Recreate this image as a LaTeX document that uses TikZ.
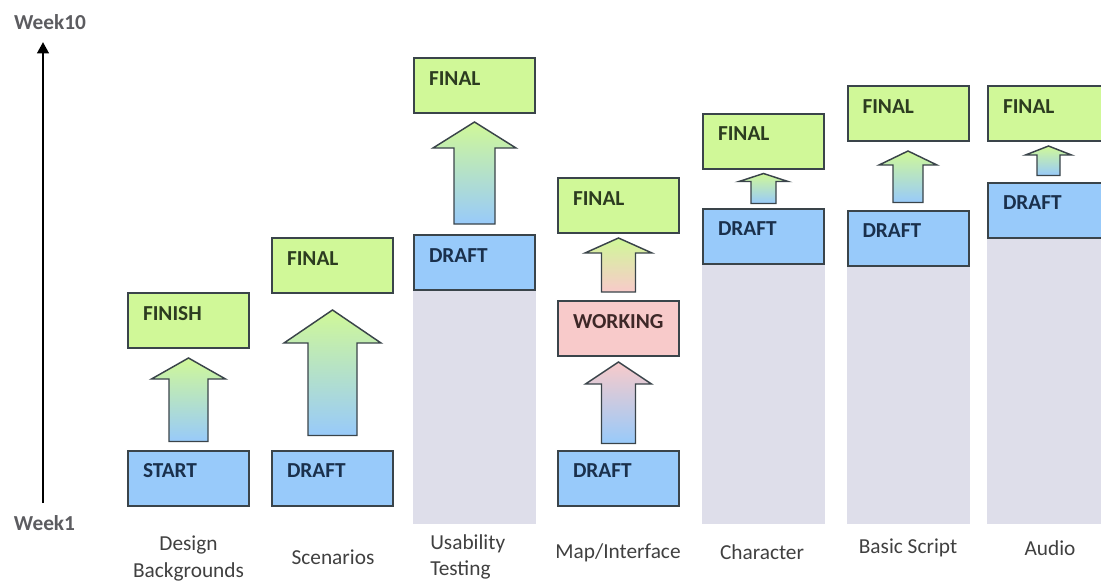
\documentclass[tikz,border=0pt]{standalone}
\usepackage{fontspec}
\setmainfont{Carlito}
\usetikzlibrary{calc,arrows.meta}
\definecolor{boxgreen}{RGB}{208,248,152}
\definecolor{boxblue}{RGB}{152,202,250}
\definecolor{boxpink}{RGB}{248,202,202}
\definecolor{colgray}{RGB}{222,222,234}
\definecolor{edgegray}{RGB}{58,68,74}
\definecolor{labgray}{RGB}{64,64,64}
\definecolor{weekgray}{RGB}{92,92,96}
\definecolor{greentext}{RGB}{44,60,32}
\definecolor{bluetext}{RGB}{26,48,76}
\definecolor{pinktext}{RGB}{62,40,40}
\def\u{0.75pt}
\tikzset{
  stagebox/.style={draw=edgegray, line width=1.5pt, anchor=center,
    inner xsep=11.25pt, inner ysep=0pt, text width=68.25pt, align=left,
    text height=20.25pt, text depth=21pt,
    font=\fontsize{16}{19}\selectfont\bfseries},
  greenbox/.style={stagebox, fill=boxgreen, text=greentext},
  bluebox/.style={stagebox, fill=boxblue, text=bluetext},
  pinkbox/.style={stagebox, fill=boxpink, text=pinktext},
  arrowedge/.style={draw=edgegray, line width=1.1pt, line join=miter},
  collabel/.style={font=\fontsize{16}{20}\selectfont, text=labgray, align=center, inner sep=0pt},
  weeklabel/.style={font=\fontsize{16}{19}\selectfont\bfseries, text=weekgray, inner sep=0pt},
  axisline/.style={line width=2.2pt, -{Triangle[width=8.5pt,length=8.5pt]}},
  graycol/.style={fill=colgray}
}
% from, to, bottom gap, top gap, shaft half width, head half width, head length, bottom colour, top colour
\newcommand\blockarrow[9]{%
  \draw[arrowedge, top color=#9, bottom color=#8]
    let \p1=(#1.north), \p2=(#2.south) in
    (\x1-#5*\u, \y1+#3*\u) -- (\x1+#5*\u, \y1+#3*\u)
    -- (\x1+#5*\u, \y2-#4*\u-#7*\u) -- (\x1+#6*\u, \y2-#4*\u-#7*\u)
    -- (\x1, \y2-#4*\u)
    -- (\x1-#6*\u, \y2-#4*\u-#7*\u) -- (\x1-#5*\u, \y2-#4*\u-#7*\u) -- cycle;
}
\begin{document}
\begin{tikzpicture}[x=0.75pt, y=-0.75pt]
\useasboundingbox (0,0) rectangle (1101,582);
\clip (0,0) rectangle (1101,582);
\coordinate (base) at (0,524);

% boxes
\node[bluebox]  (c1s) at (188.5,478)   {START};
\node[greenbox] (c1f) at (188.5,320.5) {FINISH};
\node[bluebox]  (c2d) at (332.5,478)   {DRAFT};
\node[greenbox] (c2f) at (332.5,265.5) {FINAL};
\node[bluebox]  (c3d) at (474.5,262.5) {DRAFT};
\node[greenbox] (c3f) at (474.5,85.5)  {FINAL};
\node[bluebox]  (c4d) at (618.5,478)   {DRAFT};
\node[pinkbox]  (c4w) at (618.5,328.5) {WORKING};
\node[greenbox] (c4f) at (618.5,205.5) {FINAL};
\node[bluebox]  (c5d) at (763.5,236)   {DRAFT};
\node[greenbox] (c5f) at (763.5,141)   {FINAL};
\node[bluebox]  (c6d) at (908,238)     {DRAFT};
\node[greenbox] (c6f) at (908,113.5)   {FINAL};
\node[bluebox]  (c7d) at (1048.5,210)  {DRAFT};
\node[greenbox] (c7f) at (1048.5,113.5){FINAL};

% grey columns below the drafts
\fill[graycol] (c3d.south west) rectangle (c3d.south east |- base);
\fill[graycol] (c5d.south west) rectangle (c5d.south east |- base);
\fill[graycol] (c6d.south west) rectangle (c6d.south east |- base);
\fill[graycol] (c7d.south west) rectangle (c7d.south east |- base);

% block arrows
\blockarrow{c1s}{c1f}{8}{9}{19.5}{37}{21}{boxblue}{boxgreen}
\blockarrow{c2d}{c2f}{14}{16}{24.5}{48.5}{33}{boxblue}{boxgreen}
\blockarrow{c3d}{c3f}{10}{8}{20.5}{41.5}{26}{boxblue}{boxgreen}
\blockarrow{c4d}{c4w}{6}{5}{17}{33}{22}{boxblue}{boxpink}
\blockarrow{c4w}{c4f}{8}{4}{17}{33.5}{15}{boxpink}{boxgreen}
\blockarrow{c5d}{c5f}{4}{4}{12.5}{24.5}{8}{boxblue}{boxgreen}
\blockarrow{c6d}{c6f}{7}{9}{15}{29}{14}{boxblue}{boxgreen}
\blockarrow{c7d}{c7f}{6}{4}{11.5}{23}{9}{boxblue}{boxgreen}

% time axis
\node[weeklabel] (w10) at (50,22) {Week10};
\node[weeklabel] (w1)  at (44.5,523) {Week1};
\coordinate (axbot) at (43,503);
\coordinate (axtop) at (43,42);
\draw[axisline] (axbot) -- (axtop);

% column labels
\node[collabel] (l1) at (188.5,558.5) {Design\\Backgrounds};
\node[collabel] (l2) at (333,557) {Scenarios};
\node[collabel, align=left, anchor=west] (l3) at (430,557) {Usability\\Testing};
\node[collabel] (l4) at (618,553) {Map/Interface};
\node[collabel] (l5) at (762,552) {Character};
\node[collabel] (l6) at (908,548) {Basic Script};
\node[collabel] (l7) at (1050,548) {Audio};
\end{tikzpicture}
\end{document}
